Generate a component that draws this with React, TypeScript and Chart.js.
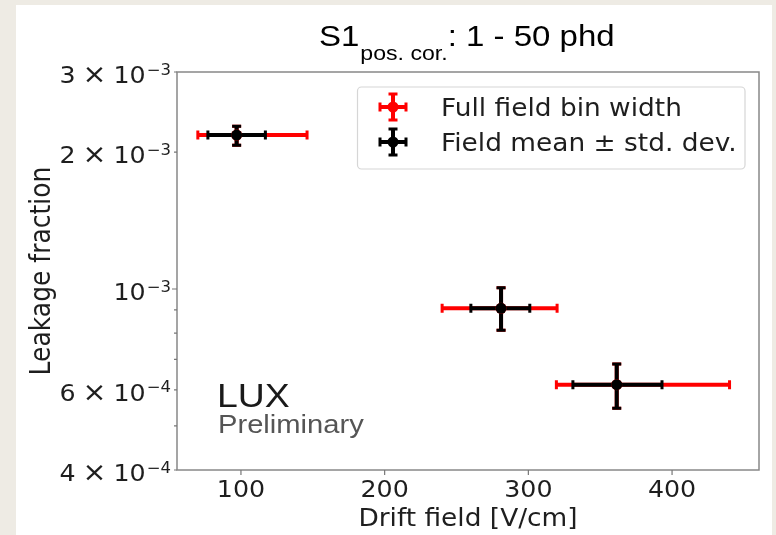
import React, { useEffect, useRef } from 'react';
import { Chart, registerables } from 'chart.js';
Chart.register(...registerables);

// ---- data ----
const fieldMean = [97, 281, 361.5];
const leakage = [2.18e-3, 9.07e-4, 6.16e-4];
const binLow = [70, 240, 319.5];
const binHigh = [146, 320, 440];
const stdLow = [77, 260, 331];
const stdHigh = [117, 301, 393];
const leakLow = [2.07e-3, 8.12e-4, 5.47e-4];
const leakHigh = [2.28e-3, 1.006e-3, 6.84e-4];

const xTicks = [100, 200, 300, 400];
const yLabelTicks = [4e-4, 6e-4, 1e-3, 2e-3, 3e-3];
const yLabelMantissa = ['4', '6', '', '2', '3'];
const yLabelExponent = ['\u22124', '\u22124', '\u22123', '\u22123', '\u22123'];
const yMinorTicks = [4e-4, 5e-4, 6e-4, 7e-4, 8e-4, 9e-4, 2e-3, 3e-3];
const yMajorTicks = [1e-3];
const seriesLabels = ['Full field bin width', 'Field mean \u00b1 std. dev.'];
const seriesColors = ['#ff0000', '#000000'];

const SX = 1.1;
const DV = '"DejaVu Sans"';
const AR = '"Liberation Sans", Arial';

function txt(ctx: CanvasRenderingContext2D, s: string, x: number, y: number, font: string, align: string, color: string, sx = SX) {
  ctx.save();
  ctx.font = font;
  ctx.fillStyle = color;
  ctx.textBaseline = 'alphabetic';
  ctx.textAlign = 'left';
  const w = ctx.measureText(s).width * sx;
  const left = align === 'left' ? x : align === 'center' ? x - w / 2 : x - w;
  ctx.translate(left, y);
  ctx.scale(sx, 1);
  ctx.fillText(s, 0, 0);
  ctx.restore();
  return w;
}

function drawErr(ctx: CanvasRenderingContext2D, cx: number, cy: number, x0: number, x1: number, y0: number, y1: number, color: string) {
  ctx.save();
  ctx.strokeStyle = color;
  ctx.fillStyle = color;
  ctx.lineWidth = 4;
  ctx.lineCap = 'butt';
  ctx.beginPath();
  ctx.moveTo(x0, cy); ctx.lineTo(x1, cy);
  ctx.moveTo(cx, y0); ctx.lineTo(cx, y1);
  ctx.stroke();
  // caps
  ctx.lineWidth = 3;
  ctx.beginPath();
  ctx.moveTo(x0, cy - 4.5); ctx.lineTo(x0, cy + 4.5);
  ctx.moveTo(x1, cy - 4.5); ctx.lineTo(x1, cy + 4.5);
  ctx.moveTo(cx - 4.5, y0); ctx.lineTo(cx + 4.5, y0);
  ctx.moveTo(cx - 4.5, y1); ctx.lineTo(cx + 4.5, y1);
  ctx.stroke();
  ctx.restore();
}

const decor = {
  id: 'decor',
  beforeDraw(chart: any) {
    const ctx = chart.ctx;
    ctx.save();
    ctx.fillStyle = '#eeebe4';
    ctx.fillRect(0, 0, chart.width, chart.height);
    ctx.fillStyle = '#ffffff';
    ctx.fillRect(16, 5, 756, chart.height - 5);
    ctx.restore();
  },
  beforeDatasetsDraw(chart: any) {
    const ctx = chart.ctx;
    const xs = chart.scales.x;
    const ys = chart.scales.y;
    const a = chart.chartArea;
    ctx.save();
    // frame
    ctx.strokeStyle = '#888888';
    ctx.lineWidth = 1.5;
    ctx.strokeRect(a.left, a.top, a.right - a.left, a.bottom - a.top);
    // ticks
    ctx.strokeStyle = '#777777';
    ctx.lineWidth = 1.2;
    ctx.beginPath();
    xTicks.forEach((v) => {
      const px = xs.getPixelForValue(v);
      ctx.moveTo(px, a.bottom); ctx.lineTo(px, a.bottom + 5);
    });
    yMinorTicks.forEach((v) => {
      const py = ys.getPixelForValue(v);
      ctx.moveTo(a.left, py); ctx.lineTo(a.left - 3, py);
    });
    yMajorTicks.forEach((v) => {
      const py = ys.getPixelForValue(v);
      ctx.moveTo(a.left, py); ctx.lineTo(a.left - 5, py);
    });
    ctx.stroke();
    ctx.restore();

    const tickFont = `23px ${DV}`;
    const supFont = `15px ${DV}`;
    const tc = '#1e1e1e';
    xTicks.forEach((v) => {
      txt(ctx, String(v), xs.getPixelForValue(v), a.bottom + 27, tickFont, 'center', tc);
    });
    yLabelTicks.forEach((v, i) => {
      const py = ys.getPixelForValue(v);
      const base = py + 11;
      let right = a.left - 6;
      const ew = txt(ctx, yLabelExponent[i], right, base - 8.5, supFont, 'right', tc);
      right -= ew + 1;
      const tw = txt(ctx, '10', right, base, tickFont, 'right', tc);
      right -= tw;
      if (yLabelMantissa[i]) {
        right -= 7;
        const xw = txt(ctx, '\u00d7', right, base, `26px ${DV}`, 'right', tc);
        right -= xw + 7;
        txt(ctx, yLabelMantissa[i], right, base, tickFont, 'right', tc);
      }
    });
    // axis titles
    txt(ctx, 'Drift field [V/cm]', (a.left + a.right) / 2, 526, `24px ${DV}`, 'center', tc);
    ctx.save();
    ctx.translate(50, (a.top + a.bottom) / 2);
    ctx.rotate(-Math.PI / 2);
    ctx.font = `25px ${DV}`;
    ctx.fillStyle = tc;
    ctx.textAlign = 'center';
    ctx.textBaseline = 'alphabetic';
    ctx.scale(1, SX);
    ctx.fillText('Leakage fraction', 0, 0);
    ctx.restore();

    // error bars
    chart.data.datasets.forEach((ds: any, di: number) => {
      ds.data.forEach((p: any) => {
        drawErr(ctx,
          xs.getPixelForValue(p.x), ys.getPixelForValue(p.y),
          xs.getPixelForValue(p.xMin), xs.getPixelForValue(p.xMax),
          ys.getPixelForValue(p.yMax), ys.getPixelForValue(p.yMin),
          seriesColors[di]);
      });
    });
  },
  afterDraw(chart: any) {
    const ctx = chart.ctx;
    // title
    let x = 319;
    x += txt(ctx, 'S1', x, 46, `30px ${AR}`, 'left', '#000');
    x += txt(ctx, 'pos. cor.', x + 1, 60, `21px ${AR}`, 'left', '#000') + 1;
    txt(ctx, ': 1 - 50 phd', x, 46, `30px ${AR}`, 'left', '#000');
    // LUX preliminary
    txt(ctx, 'LUX', 217, 407, `34px ${AR}`, 'left', '#1a1a1a');
    txt(ctx, 'Preliminary', 218, 433, `26.5px ${AR}`, 'left', '#555555');
    // legend
    ctx.save();
    ctx.fillStyle = 'rgba(255,255,255,0.85)';
    ctx.strokeStyle = '#d6d6d6';
    ctx.lineWidth = 1.2;
    ctx.beginPath();
    (ctx as any).roundRect(357.5, 87, 387.5, 82, 4);
    ctx.fill();
    ctx.stroke();
    ctx.restore();
    const rows = [107, 142];
    seriesLabels.forEach((lab, i) => {
      const cy = rows[i];
      const cx = 393;
      drawErr(ctx, cx, cy, cx - 13, cx + 13, cy - 13, cy + 13, seriesColors[i]);
      ctx.save();
      ctx.fillStyle = seriesColors[i];
      ctx.beginPath();
      ctx.arc(cx, cy, 5.5, 0, Math.PI * 2);
      ctx.fill();
      ctx.restore();
      txt(ctx, lab, 441, cy + 8.5, `24px ${DV}`, 'left', '#1e1e1e');
    });
  },
};

export default function App() {
  const ref = useRef<HTMLCanvasElement>(null);
  useEffect(() => {
    if (!ref.current) return;
    const mk = (lo: number[], hi: number[]) =>
      fieldMean.map((x, i) => ({ x, y: leakage[i], xMin: lo[i], xMax: hi[i], yMin: leakLow[i], yMax: leakHigh[i] }));
    const chart = new Chart(ref.current, {
      type: 'scatter',
      data: {
        datasets: [
          { label: seriesLabels[0], data: mk(binLow, binHigh), pointRadius: 5.5, pointBackgroundColor: seriesColors[0], pointBorderWidth: 0, order: 1 },
          { label: seriesLabels[1], data: mk(stdLow, stdHigh), pointRadius: 5.5, pointBackgroundColor: seriesColors[1], pointBorderWidth: 0, order: 0 },
        ],
      } as any,
      options: {
        animation: false,
        responsive: false,
        devicePixelRatio: 1,
        layout: { padding: { left: 177, top: 72, right: 17, bottom: 65 } },
        plugins: { legend: { display: false }, tooltip: { enabled: false }, title: { display: false } },
        scales: {
          x: { type: 'linear', min: 55.5, max: 460.5, bounds: 'data', display: false },
          y: { type: 'logarithmic', min: 4e-4, max: 3e-3, bounds: 'data', display: false },
        },
      } as any,
      plugins: [decor],
    });
    return () => chart.destroy();
  }, []);
  return (
    <div style={{ position: 'absolute', left: 0, top: 0, width: 776, height: 535 }}>
      <canvas ref={ref} width={776} height={535} style={{ display: 'block' }} />
    </div>
  );
}
